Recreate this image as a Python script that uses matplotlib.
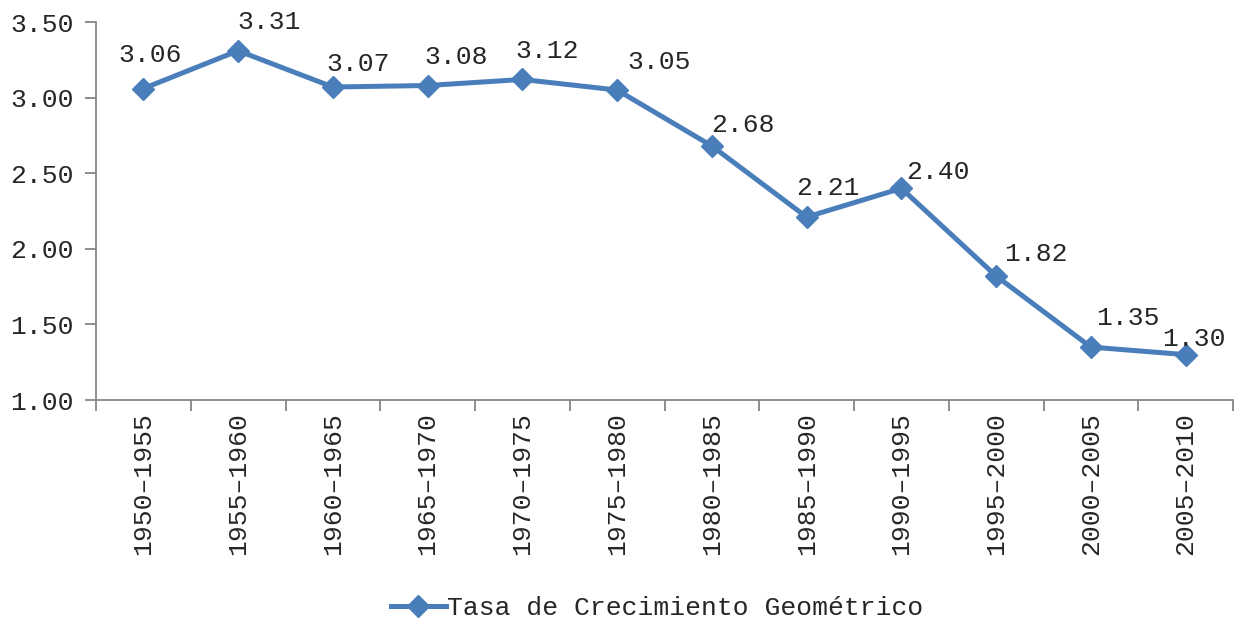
import matplotlib
matplotlib.use("Agg")
import matplotlib.pyplot as plt
from matplotlib.ticker import FixedLocator, FormatStrFormatter

periods = ["1950-1955", "1955-1960", "1960-1965", "1965-1970", "1970-1975", "1975-1980",
           "1980-1985", "1985-1990", "1990-1995", "1995-2000", "2000-2005", "2005-2010"]
rates = [3.06, 3.31, 3.07, 3.08, 3.12, 3.05, 2.68, 2.21, 2.40, 1.82, 1.35, 1.30]
series_name = "Tasa de Crecimiento Geométrico"

# label offsets in pixels (dx, dy up)
label_offsets = [(7, 34), (31, 29), (25, 23), (28, 29), (25, 28), (42, 28),
                 (31, 21), (21, 29), (36, 16), (40, 22), (37, 29), (8, 16)]

plt.rcParams['font.family'] = ['Liberation Mono', 'DejaVu Sans']
color = "#4A7EBB"
gray = "#868686"
txt = "#262626"
fs = 19

fig = plt.figure(figsize=(12.35, 6.2), dpi=100)
ax = fig.add_axes([96/1235, 1-400/620, (1233-96)/1235, (400-22)/620])

x = list(range(len(periods)))
ax.plot(x, rates, color=color, lw=3.6, marker='D', markersize=11,
        markerfacecolor=color, markeredgecolor=color, label=series_name, zorder=3)

px = 0.72
for xi, v, (dx, dy) in zip(x, rates, label_offsets):
    ax.annotate(f"{v:.2f}", (xi, v), xytext=(dx*px, dy*px), textcoords='offset points',
                ha='center', va='center', fontsize=fs, color=txt)

ax.set_xlim(-0.5, len(periods)-0.5)
ax.set_ylim(1.0, 3.5)
ax.yaxis.set_major_locator(FixedLocator([1.0, 1.5, 2.0, 2.5, 3.0, 3.5]))
ax.yaxis.set_major_formatter(FormatStrFormatter('%.2f'))
ax.set_xticks(x)
ax.set_xticklabels([p.replace('-', '\u2013') for p in periods], rotation=90, fontsize=fs, color=txt)
ax.set_xticks([i - 0.5 for i in range(len(periods)+1)], minor=True)
ax.tick_params(axis='x', which='major', length=0, pad=9)
ax.tick_params(axis='x', which='minor', length=8, width=1.3, color=gray, direction='out')
ax.tick_params(axis='y', length=8, width=1.3, color=gray, direction='out', labelsize=fs,
               labelcolor=txt, pad=8)

for s in ['top', 'right']:
    ax.spines[s].set_visible(False)
for s in ['left', 'bottom']:
    ax.spines[s].set_color(gray)
    ax.spines[s].set_linewidth(1.3)

leg = fig.legend(loc='center', bbox_to_anchor=(0.532, 1-608/620), frameon=False,
                 fontsize=fs, handlelength=2.1, handletextpad=0.05)
for t in leg.get_texts():
    t.set_color(txt)

fig.savefig("out.png", dpi=100)
